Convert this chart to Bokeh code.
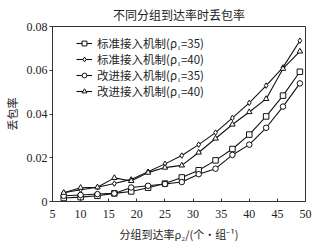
from bokeh.plotting import figure
from bokeh.embed import file_html
from bokeh.resources import INLINE
from bokeh.models import Range1d, FixedTicker, Legend, LegendItem

x = [7, 10, 13, 16, 19, 22, 25, 28, 31, 34, 37, 40, 43, 46, 49]
std35 = [0.0016, 0.0020, 0.0026, 0.0037, 0.0046, 0.0063, 0.0082, 0.0110, 0.0143, 0.0188, 0.0240, 0.0306, 0.0389, 0.0484, 0.0593]
std40 = [0.0040, 0.0054, 0.0065, 0.0082, 0.0101, 0.0136, 0.0172, 0.0210, 0.0260, 0.0315, 0.0382, 0.0451, 0.0530, 0.0613, 0.0735]
imp35 = [0.0026, 0.0030, 0.0034, 0.0037, 0.0064, 0.0072, 0.0080, 0.0089, 0.0125, 0.0150, 0.0213, 0.0260, 0.0337, 0.0434, 0.0540]
imp40 = [0.0040, 0.0063, 0.0065, 0.0108, 0.0094, 0.0132, 0.0155, 0.0165, 0.0224, 0.0288, 0.0352, 0.0409, 0.0469, 0.0607, 0.0686]

labels = ["标准接入机制(ρ₁=35)", "标准接入机制(ρ₁=40)", "改进接入机制(ρ₁=35)", "改进接入机制(ρ₁=40)"]
markers = ["square", "diamond", "circle", "triangle"]
series = [std35, std40, imp35, imp40]

x_ticks = [5, 10, 15, 20, 25, 30, 35, 40, 45, 50]
y_ticks = [0, 0.02, 0.04, 0.06, 0.08]
y_tick_labels = ["0", "0.02", "0.04", "0.06", "0.08"]

CJK = "Noto Sans CJK SC"
SERIF = "Liberation Serif"

p = figure(width=319, height=244, output_backend="svg", toolbar_location=None,
           x_range=Range1d(5, 50), y_range=Range1d(0, 0.08),
           title="不同分组到达率时丢包率",
           min_border_left=44, min_border_right=14, min_border_top=16, min_border_bottom=40)
p.title.align = "center"
p.title.text_font = CJK
p.title.text_font_size = "12px"
p.title.text_font_style = "normal"
p.title.text_color = "#222222"
p.title.standoff = 7
p.title.offset = 0

p.xgrid.visible = False
p.ygrid.visible = False
p.outline_line_color = "#333333"
p.outline_line_width = 1

for ax in (p.xaxis[0], p.yaxis[0]):
    ax.axis_line_color = "#333333"
    ax.major_tick_line_color = "#333333"
    ax.minor_tick_line_color = None
    ax.major_label_text_font = SERIF
    ax.major_label_text_font_size = "12px"
    ax.major_label_text_color = "#222222"
    ax.axis_label_text_font = CJK
    ax.axis_label_text_font_size = "11px"
    ax.axis_label_text_font_style = "normal"
    ax.axis_label_text_color = "#222222"

p.xaxis.ticker = FixedTicker(ticks=x_ticks)
p.yaxis.ticker = FixedTicker(ticks=y_ticks)
p.yaxis.major_label_overrides = {t: l for t, l in zip(y_ticks, y_tick_labels)}
p.xaxis.major_tick_in = 3
p.xaxis.major_tick_out = 0
p.yaxis.major_tick_in = 0
p.yaxis.major_tick_out = 3
p.xaxis.major_label_standoff = 8
p.yaxis.major_label_standoff = 2
p.xaxis.axis_label = "分组到达率ρ₂/(个·组⁻¹)"
p.yaxis.axis_label = "丢包率"
p.xaxis.axis_label_standoff = 5
p.yaxis.axis_label_standoff = 4

items = []
for lab, mk, ys in zip(labels, markers, series):
    r1 = p.line(x, ys, line_color="#111111", line_width=1.1)
    r2 = p.scatter(x, ys, marker=mk, size=5.5, line_color="#111111", fill_color="white", line_width=1)
    items.append(LegendItem(label=lab, renderers=[r1, r2]))

legend = Legend(items=items, location=(24, 102))
legend.border_line_color = None
legend.background_fill_alpha = 0
legend.label_text_font = CJK
legend.label_text_font_size = "11.5px"
legend.label_text_color = "#222222"
legend.glyph_width = 16
legend.glyph_height = 12
legend.spacing = 0
legend.padding = 2
legend.margin = 0
legend.label_standoff = 5
legend.label_height = 12
p.add_layout(legend)

open("out.html", "w").write(file_html(p, INLINE))
